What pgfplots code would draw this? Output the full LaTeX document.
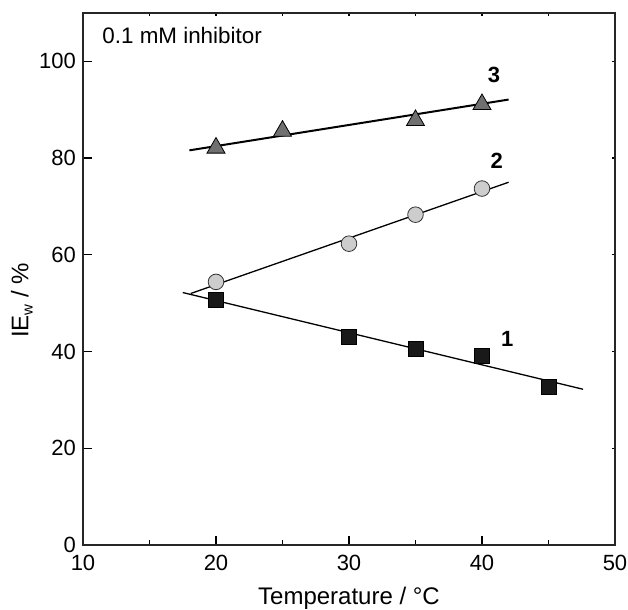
\documentclass[border=0pt]{standalone}
\usepackage{fontspec}
\setmainfont{Liberation Sans}
\usepackage{pgfplots}
\pgfplotsset{compat=1.18}
\definecolor{tri}{RGB}{112,112,112}
\definecolor{circ}{RGB}{205,205,205}
\begin{document}
\begin{tikzpicture}
% 1 px of the reference = 0.5pt; axis box lower left at (0,0)
\useasboundingbox (-41.5pt,-32.5pt) rectangle (272.5pt,272.5pt);
\begin{axis}[
  scale only axis,
  width=266pt, height=266pt,
  xmin=10, xmax=50, ymin=0, ymax=110,
  xtick={10,20,...,50}, minor xtick={15,25,...,45},
  ytick={0,20,...,100},
  xtick pos=bottom, ytick pos=left,
  tick align=inside,
  major tick length=4.5pt, minor tick length=2.25pt,
  every tick/.style={black, line width=0.6pt},
  axis line style={line width=0.65pt, black!85},
  tick label style={font=\fontsize{11}{13}\selectfont},
  xticklabel style={yshift=-1.5pt},
  /pgf/number format/assume math mode=true,
  xlabel={Temperature / \textdegree C},
  ylabel={IE\raisebox{-0.35ex}{\fontsize{7.5}{9}\selectfont w} / \%},
  label style={font=\fontsize{12}{14}\selectfont},
  xlabel style={at={(axis description cs:0.5,-0.1)}, anchor=center},
  ylabel style={at={(axis description cs:-0.115,0.46)}, anchor=center},
  clip=false,
]
% fitted lines
\addplot[black, line width=0.65pt] coordinates {(17.5,52.2) (47.6,32.2)};
\addplot[black, line width=0.65pt] coordinates {(18.1,52.0) (42.0,75.0)};
\addplot[black, line width=1pt] coordinates {(18.0,81.6) (42.0,92.1)};
% series 1: squares
\addplot[only marks, mark=square*, mark size=3.75pt,
  mark options={fill=black!90, draw=black, line width=0.3pt}]
  coordinates {(20,50.7) (30,43.0) (35,40.6) (40,39.2) (45,32.8)};
% series 2: circles
\addplot[only marks, mark=*, mark size=3.9pt,
  mark options={fill=circ, draw=black!80, line width=0.4pt}]
  coordinates {(20,54.4) (30,62.3) (35,68.3) (40,73.7)};
% series 3: triangles
\addplot[only marks, mark=triangle*, mark size=5.2pt,
  mark options={fill=tri, draw=black, line width=0.4pt}]
  coordinates {(20,82.1) (25,85.6) (35,87.8) (40,91.1)};
\node[font=\fontsize{11}{13}\selectfont\bfseries] at (axis cs:40.9,97.1) {3};
\node[font=\fontsize{11}{13}\selectfont\bfseries] at (axis cs:41.1,79.5) {2};
\node[font=\fontsize{11}{13}\selectfont\bfseries] at (axis cs:41.9,42.6) {1};
\node[anchor=west, inner sep=0pt, font=\fontsize{11.2}{13}\selectfont] at (axis cs:11.43,105.4) {0.1 mM inhibitor};
\end{axis}
% short ticks on top and right
\begin{axis}[
  scale only axis,
  width=266pt, height=266pt,
  xmin=10, xmax=50, ymin=0, ymax=110,
  xtick={10,15,...,50}, ytick={0,20,...,100},
  xtick pos=top, ytick pos=right,
  tick align=inside,
  major tick length=1.5pt,
  every tick/.style={black, line width=0.6pt},
  axis line style={line width=0.65pt, black!85},
  xticklabels={}, yticklabels={},
]
\end{axis}
\end{tikzpicture}
\end{document}
